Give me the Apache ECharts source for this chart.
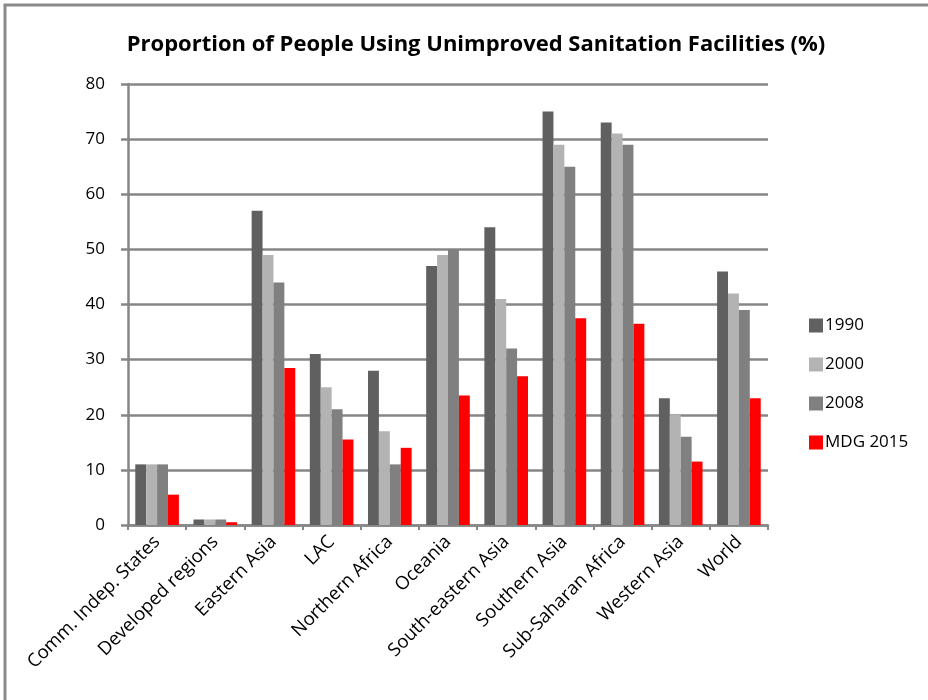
<!DOCTYPE html>
<html>
<head>
<meta charset="utf-8">
<script src="https://cdn.jsdelivr.net/npm/echarts@6/dist/echarts.min.js"></script>
<style>
  html, body { margin: 0; padding: 0; background: #fff; }
  #chart { width: 928px; height: 700px; }
</style>
</head>
<body>
<div id="chart"></div>
<script>
// Regions and unimproved-sanitation shares (%)
const regions = [
  'Comm. Indep. States', 'Developed regions', 'Eastern Asia', 'LAC',
  'Northern Africa', 'Oceania', 'South-eastern Asia', 'Southern Asia',
  'Sub-Saharan Africa', 'Western Asia', 'World'
];
const y1990 = [11, 1, 57, 31, 28, 47, 54, 75, 73, 23, 46];
const y2000 = [11, 1, 49, 25, 17, 49, 41, 69, 71, 20, 42];
const y2008 = [11, 1, 44, 21, 11, 50, 32, 65, 69, 16, 39];
const mdg2015 = [5.5, 0.5, 28.5, 15.5, 14, 23.5, 27, 37.5, 36.5, 11.5, 23];
const seriesNames = ['1990', '2000', '2008', 'MDG 2015'];
const yTicks = [0, 10, 20, 30, 40, 50, 60, 70, 80];

const font = '"Open Sans", "Noto Sans", sans-serif';
const gridColor = '#868686';

const chart = echarts.init(document.getElementById('chart'), null, { renderer: 'canvas' });

function bar(name, data, color) {
  return {
    name, type: 'bar', data,
    barGap: '0%', barCategoryGap: '25%',
    itemStyle: { color },
    emphasis: { disabled: true }
  };
}

chart.setOption({
  animation: false,
  backgroundColor: '#ffffff',
  title: {
    text: 'Proportion of People Using Unimproved Sanitation Facilities (%)',
    left: 471, top: 29, textAlign: 'center',
    textStyle: { fontFamily: font, fontWeight: 'bold', fontSize: 22, color: '#000' }
  },
  graphic: [{
    type: 'rect',
    shape: { x: 5, y: 5, width: 940, height: 720 },
    style: { fill: 'none', stroke: '#8a8a8a', lineWidth: 3 },
    silent: true
  }],
  legend: {
    orient: 'vertical',
    left: 804, top: 312,
    itemWidth: 14, itemHeight: 14, itemGap: 22,
    icon: 'rect',
    textStyle: { fontFamily: font, fontSize: 17, color: '#000', padding: [0, 0, 0, -3] },
    data: seriesNames
  },
  grid: { left: 128, right: 160, top: 84, bottom: 175, containLabel: false },
  xAxis: {
    type: 'category',
    data: regions,
    axisLine: { lineStyle: { color: gridColor, width: 2.5 } },
    axisTick: { show: true, length: 5, lineStyle: { color: gridColor, width: 2 } },
    axisLabel: {
      rotate: 45, interval: 0, margin: 14,
      fontFamily: font, fontSize: 18.5, color: '#000'
    }
  },
  yAxis: {
    type: 'value',
    min: 0, max: 80, interval: 10,
    axisLine: { show: true, lineStyle: { color: gridColor, width: 2.5 } },
    axisTick: { show: true, length: 7, lineStyle: { color: gridColor, width: 2.5 } },
    splitLine: { show: true, lineStyle: { color: gridColor, width: 2.5 } },
    axisLabel: {
      margin: 23, fontFamily: font, fontSize: 17, color: '#000',
      formatter: v => yTicks.includes(v) ? String(v) : ''
    }
  },
  series: [
    bar(seriesNames[0], y1990, '#606060'),
    bar(seriesNames[1], y2000, '#b3b3b3'),
    bar(seriesNames[2], y2008, '#808080'),
    bar(seriesNames[3], mdg2015, '#ff0000')
  ]
});
</script>
</body>
</html>
